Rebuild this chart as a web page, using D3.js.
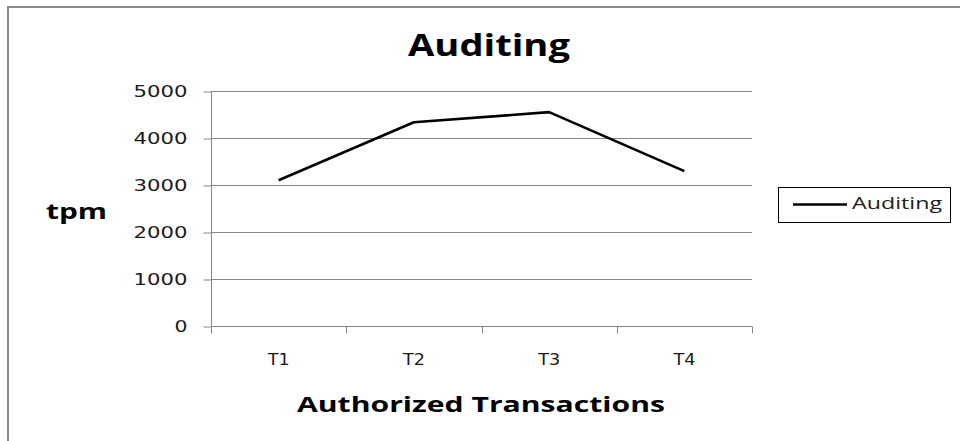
<!DOCTYPE html>
<html>
<head>
<meta charset="utf-8">
<script src="https://cdn.jsdelivr.net/npm/d3@7"></script>
<style>
  body { margin: 0; background: #fff; }
  svg { display: block; }
  .tick text { font-family: "DejaVu Sans", sans-serif; fill: #1a1a1a; }
</style>
</head>
<body>
<div id="chart"></div>
<script>
// chart data
var categories = ["T1", "T2", "T3", "T4"]
var auditing = [3100, 4335, 4550, 3295]
var yTicks = [0, 1000, 2000, 3000, 4000, 5000]
var seriesName = "Auditing"

var width = 960, height = 441
var margin = {top: 91, right: 208, bottom: 115, left: 211}
var w = width - margin.left - margin.right,
    h = height - margin.top - margin.bottom

var svg = d3.select("#chart")
  .append("svg")
    .attr("width", width)
    .attr("height", height)

// outer frame (left and top edges only are visible)
svg.append("path")
  .attr("d", "M8,441 V7 H960")
  .attr("fill", "none")
  .attr("stroke", "#8a8a8a")
  .attr("stroke-width", 2)

var g = svg.append("g")
  .attr("transform", "translate(" + margin.left + "," + margin.top + ")")

var x = d3.scaleBand()
  .domain(categories)
  .range([0, w])

var y = d3.scaleLinear()
  .domain([0, 5000])
  .range([h, 0])

// gridlines
g.append("g")
  .selectAll("line")
  .data(yTicks.filter(d => d > 0))
  .enter()
  .append("line")
    .attr("x1", 0)
    .attr("x2", w)
    .attr("y1", d => y(d) + 0.5)
    .attr("y2", d => y(d) + 0.5)
    .attr("stroke", "#868686")

// y axis
var yAxis = g.append("g")
  .attr("transform", "translate(0.5,0.5)")
  .call(d3.axisLeft(y).tickValues(yTicks).tickFormat(d3.format("d")).tickSize(8).tickPadding(16))
yAxis.selectAll("path, line").attr("stroke", "#868686")
yAxis.select(".domain").attr("d", "M0," + h + "V0")
yAxis.selectAll("text")
  .style("font-size", "15px")
  .attr("textLength", 54)
  .attr("lengthAdjust", "spacingAndGlyphs")
  .attr("dy", "0.36em")
yAxis.selectAll(".tick").filter(d => d == 0).select("text").attr("textLength", 13)

// x axis, ticks between categories
var xAxis = g.append("g")
  .attr("transform", "translate(0," + (h + 0.5) + ")")
  .call(d3.axisBottom(x).tickSize(0).tickPadding(28))
xAxis.select(".domain").attr("stroke", "#868686").attr("d", "M0,0H" + w)
xAxis.selectAll("text")
  .style("font-size", "15px")
  .attr("textLength", 22)
  .attr("lengthAdjust", "spacingAndGlyphs")
xAxis.append("g")
  .selectAll("line")
  .data(d3.range(categories.length + 1))
  .enter()
  .append("line")
    .attr("x1", i => Math.round(i * x.step()) + 0.5)
    .attr("x2", i => Math.round(i * x.step()) + 0.5)
    .attr("y1", 0)
    .attr("y2", 7)
    .attr("stroke", "#868686")

// the line
var line = d3.line()
  .x((d, i) => x(categories[i]) + x.bandwidth() / 2)
  .y(d => y(d))

g.append("path")
  .datum(auditing)
  .attr("d", line)
  .attr("fill", "none")
  .attr("stroke", "#000")
  .attr("stroke-width", 2.6)
  .attr("stroke-linejoin", "round")

// titles
var bold = "'Open Sans', sans-serif"
svg.append("text")
  .attr("x", 408).attr("y", 56)
  .attr("textLength", 162)
  .attr("lengthAdjust", "spacingAndGlyphs")
  .style("font-family", bold).style("font-weight", "bold").style("font-size", "31px")
  .text(seriesName)

svg.append("text")
  .attr("x", 297).attr("y", 412)
  .attr("textLength", 368)
  .attr("lengthAdjust", "spacingAndGlyphs")
  .style("font-family", bold).style("font-weight", "bold").style("font-size", "21px")
  .text("Authorized Transactions")

svg.append("text")
  .attr("x", 46).attr("y", 219)
  .attr("textLength", 61)
  .attr("lengthAdjust", "spacingAndGlyphs")
  .style("font-family", bold).style("font-weight", "bold").style("font-size", "21px")
  .text("tpm")

// legend
var legend = svg.append("g")
legend.append("rect")
  .attr("x", 778.5).attr("y", 187.5)
  .attr("width", 172).attr("height", 35)
  .attr("fill", "#fff")
  .attr("stroke", "#000")
legend.append("line")
  .attr("x1", 793).attr("x2", 847)
  .attr("y1", 204.5).attr("y2", 204.5)
  .attr("stroke", "#000")
  .attr("stroke-width", 2.6)
legend.append("text")
  .attr("x", 852).attr("y", 209)
  .attr("textLength", 90)
  .attr("lengthAdjust", "spacingAndGlyphs")
  .style("font-family", "'Open Sans', sans-serif").style("font-size", "16px").style("fill", "#222")
  .text(seriesName)
</script>
</body>
</html>
